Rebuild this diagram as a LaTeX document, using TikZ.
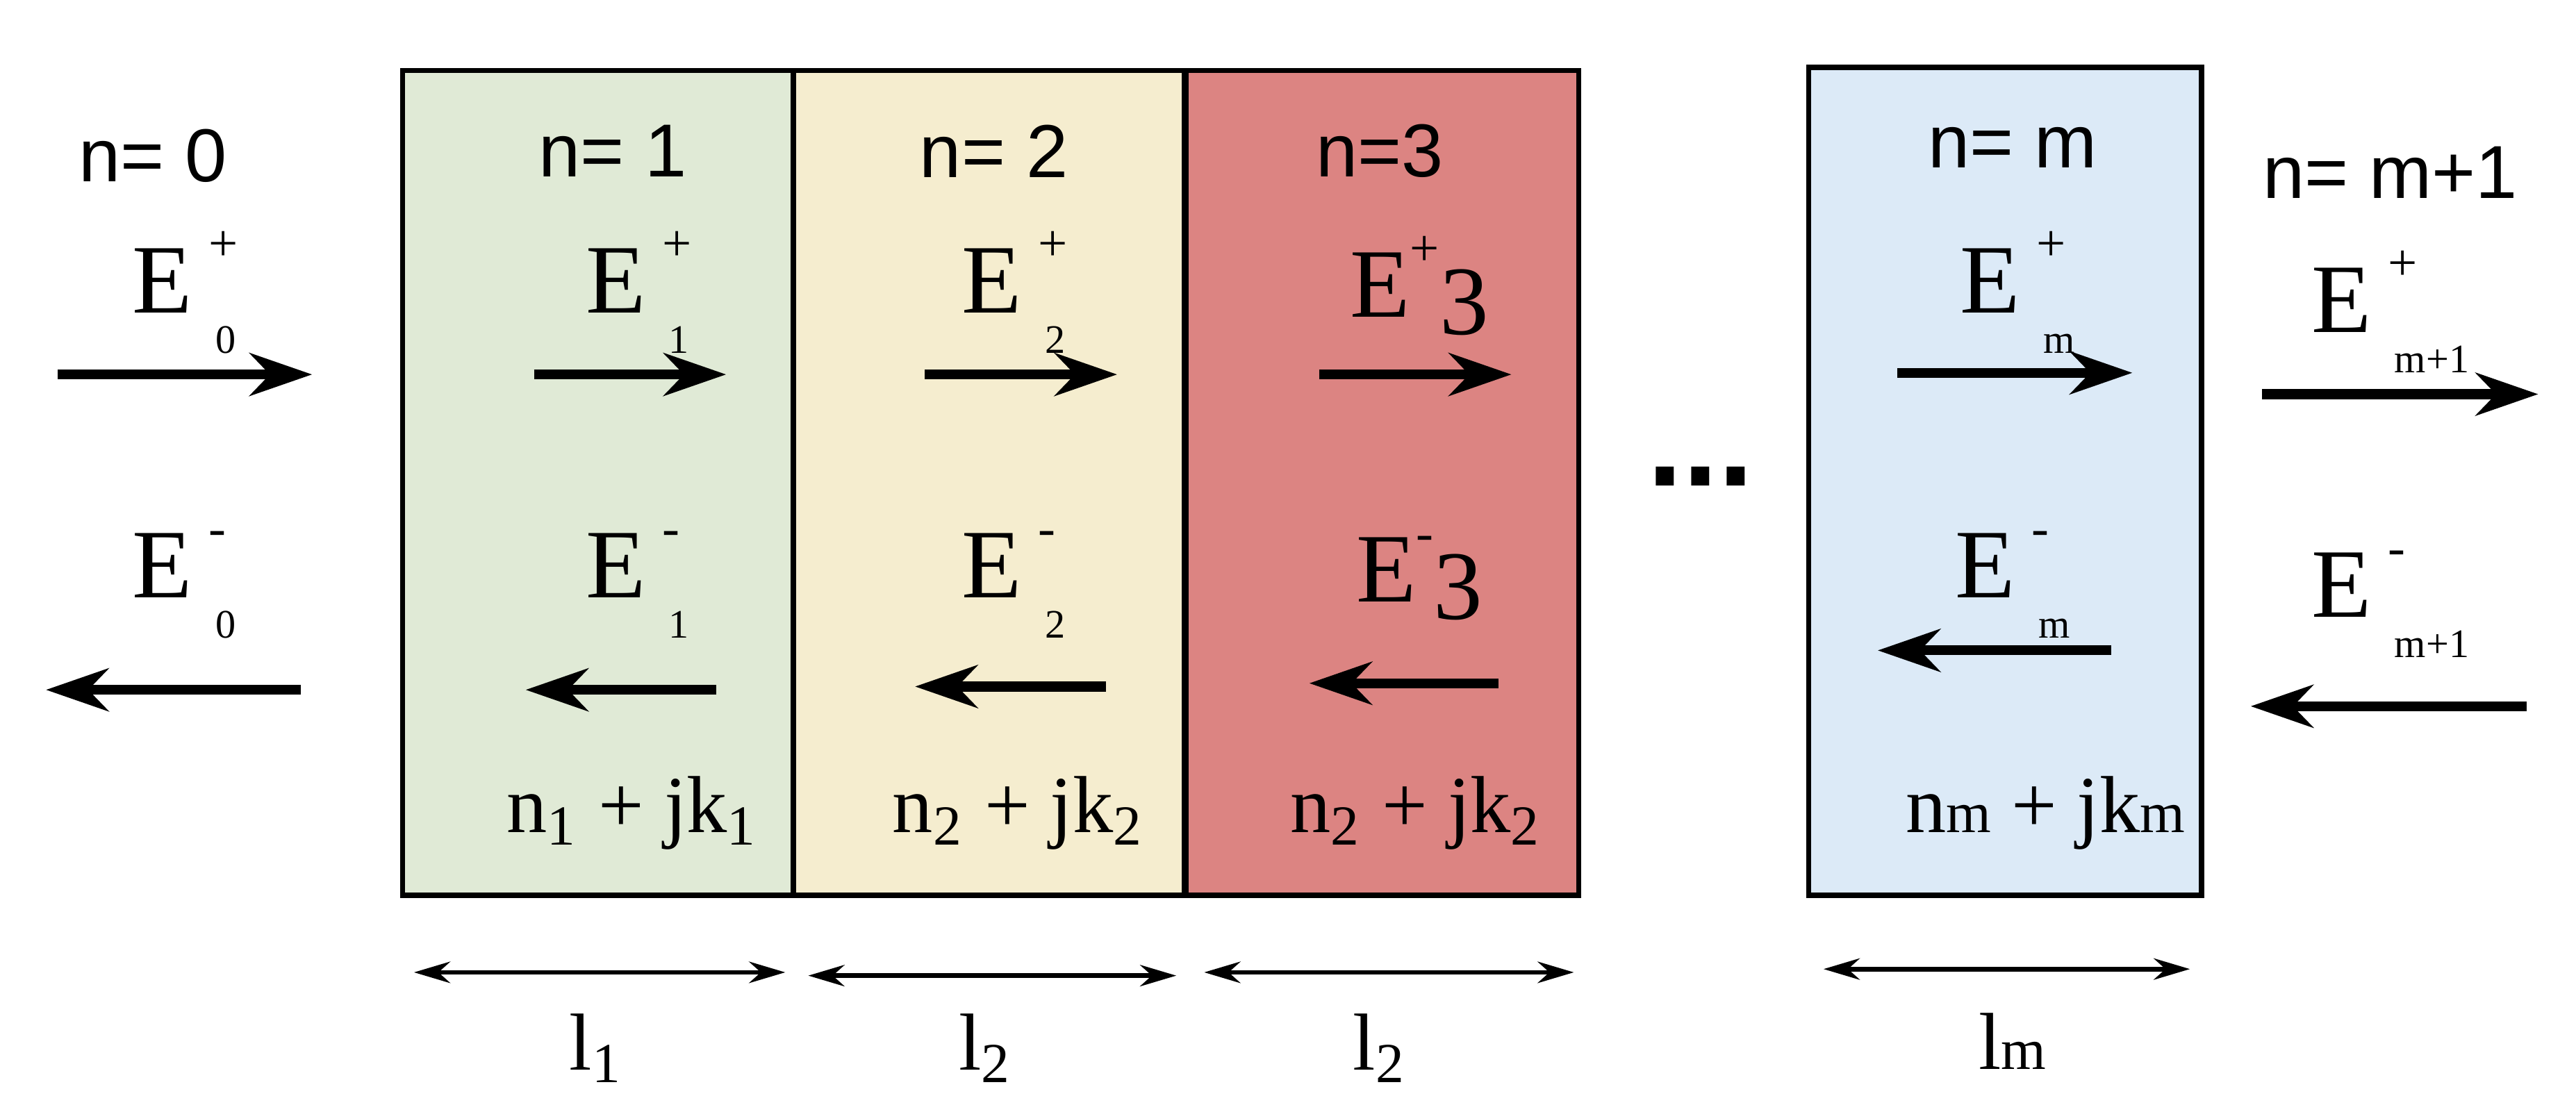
\documentclass[tikz,border=0pt]{standalone}
\usepackage{fontspec}
\setmainfont{Liberation Sans}
\newfontfamily\serif{Liberation Serif}
\usetikzlibrary{arrows.meta}
\definecolor{layergreen}{RGB}{224,234,214}
\definecolor{layeryellow}{RGB}{245,237,207}
\definecolor{layerred}{RGB}{220,132,130}
\definecolor{layerblue}{RGB}{220,234,247}
\tikzset{
  layer/.style={draw, line width=0.9pt},
  wave/.style={line width=1.7pt, -{Stealth[length=0.38cm, width=0.26cm]}},
  span/.style={line width=0.8pt, {Stealth[length=0.22cm, width=0.13cm]}-{Stealth[length=0.22cm, width=0.13cm]}},
  idx/.style={font=\fontsize{13}{15}\selectfont},
  lab/.style={font=\serif\fontsize{14}{16}\selectfont},
  fld/.style={font=\serif\fontsize{17}{19}\selectfont}
}
% E with stacked super- and subscript
\newcommand{\Efield}[2]{E\rlap{\,\raisebox{9pt}{\fontsize{9}{9}\selectfont #1}}\hspace{4pt}\raisebox{-7pt}{\fontsize{7}{7}\selectfont #2}}
\begin{document}
\begin{tikzpicture}[x=0.01cm, y=-0.01cm]
  \useasboundingbox (0,0) rectangle (1568,677);
  % layers
  \draw[layer, fill=layergreen] (245,43) rectangle (483,545);
  \draw[layer, fill=layeryellow] (483,43) rectangle (721,545);
  \draw[layer, fill=layerred] (722,43) rectangle (961,545);
  \draw[layer, fill=layerblue] (1101,41) rectangle (1340,545);

  % medium indices
  \node[idx] (n0) at (93,95) {n= 0};
  \node[idx] (n1) at (373,92) {n= 1};
  \node[idx] (n2) at (605,92) {n= 2};
  \node[idx] (n3) at (840,92) {n=3};
  \node[idx] (nm) at (1225,90) {n= m};
  \node[idx] (nm1) at (1455,105) {n= m+1};

  % forward fields
  \node[fld] (ep0) at (112,178) {\Efield{+}{0}};
  \node[fld] (ep1) at (388,178) {\Efield{+}{1}};
  \node[fld] (ep2) at (617,178) {\Efield{+}{2}};
  \node[fld] (ep3) at (864,174) {E\raisebox{9pt}{\fontsize{9}{9}\selectfont +}\raisebox{-3pt}{3}};
  \node[fld] (epm) at (1228,178) {\Efield{+}{m}};
  \node[fld] (epm1) at (1455,190) {\Efield{+}{m+1}};
  \draw[wave] (35,228) -- (190,228);
  \draw[wave] (325,228) -- (442,228);
  \draw[wave] (563,228) -- (680,228);
  \draw[wave] (803,228) -- (920,228);
  \draw[wave] (1155,227) -- (1298,227);
  \draw[wave] (1377,240) -- (1545,240);

  % backward fields
  \node[fld] (em0) at (112,356) {\Efield{-}{0}};
  \node[fld] (em1) at (388,356) {\Efield{-}{1}};
  \node[fld] (em2) at (617,356) {\Efield{-}{2}};
  \node[fld] (em3) at (864,352) {E\raisebox{9pt}{\fontsize{9}{9}\selectfont -}\raisebox{-3pt}{3}};
  \node[fld] (emm) at (1225,356) {\Efield{-}{m}};
  \node[fld] (emm1) at (1455,368) {\Efield{-}{m+1}};
  \draw[wave] (183,420) -- (28,420);
  \draw[wave] (436,420) -- (320,420);
  \draw[wave] (673,418) -- (557,418);
  \draw[wave] (912,416) -- (797,416);
  \draw[wave] (1285,396) -- (1143,396);
  \draw[wave] (1538,430) -- (1370,430);

  % refractive indices
  \node[lab] (k1) at (385,495) {n\textsubscript{1} + jk\textsubscript{1}};
  \node[lab] (k2) at (620,495) {n\textsubscript{2} + jk\textsubscript{2}};
  \node[lab] (k3) at (862,495) {n\textsubscript{2} + jk\textsubscript{2}};
  \node[lab] (km) at (1245,495) {n{\fontsize{10}{10}\selectfont m} + jk{\fontsize{10}{10}\selectfont m}};
  \node[font=\fontsize{22}{24}\selectfont\bfseries] (dots) at (1035,290) {...};

  % thicknesses
  \draw[span] (252,592) -- (478,592);
  \draw[span] (492,594) -- (716,594);
  \draw[span] (733,592) -- (958,592);
  \draw[span] (1110,590) -- (1333,590);
  \node[lab] (l1) at (363,638) {l\textsubscript{1}};
  \node[lab] (l2) at (600,638) {l\textsubscript{2}};
  \node[lab] (l3) at (840,638) {l\textsubscript{2}};
  \node[lab] (lm) at (1225,634) {l{\fontsize{10}{10}\selectfont m}};
\end{tikzpicture}
\end{document}
